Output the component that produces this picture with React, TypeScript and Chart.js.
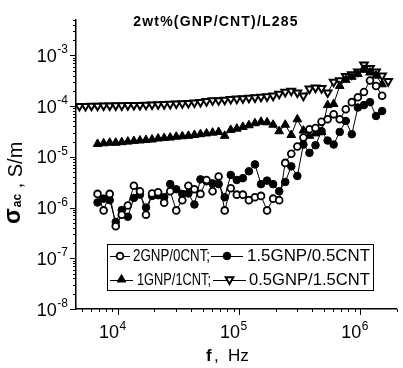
import { useEffect, useRef } from "react";
import { Chart, registerables } from "chart.js";

Chart.register(...registerables);

// ---------------- data ----------------
const FREQ_HZ = [
  4800, 5390, 6040, 6780, 7610, 8540, 9580, 10750, 12060, 13530,
  15180, 17030, 19110, 21440, 24060, 26990, 30290, 33980, 38130, 42780,
  48000, 53860, 60430, 67800, 76080, 85360, 95780, 107500, 120600, 135300,
  151800, 170300, 191100, 214400, 240600, 269900, 302900, 339800, 381300, 427800,
  480000, 538600, 604300, 678100, 760800, 853600, 957800, 1075000, 1206000, 1353000,
  1518000, 1703000,
];

const N = null;

const SIGMA_2GNP_0CNT = [
  N, N, N, 1.86e-6, 8.8e-7, 1.86e-6, 4.3e-7, 7.2e-7, 1.1e-6, 2.7e-6,
  2.1e-6, 7.2e-7, 1.9e-6, 2.0e-6, 1.25e-6, 2.1e-6, 8.8e-7, 1.4e-6, 2.7e-6, 2.3e-6,
  1.86e-6, 3.5e-6, 2.1e-6, 4.1e-6, 8.8e-7, 2.4e-6, 1.8e-6, 1.8e-6, 1.4e-6, 1.6e-6,
  1.7e-6, 8.8e-7, 1.5e-6, 1.4e-6, 7.6e-6, 1.15e-5, 1.6e-5, 2.4e-5, 3.5e-5, 3.7e-5,
  4.9e-5, 5.5e-5, 6.9e-5, 5.5e-5, 8.7e-5, 1.2e-4, 1.5e-4, 1.9e-4, 3.2e-4, 2.5e-4,
  1.6e-4, N,
];

const SIGMA_15GNP_05CNT = [
  N, N, N, 1.26e-6, 1.5e-6, 1.4e-6, 5.2e-7, 8.9e-7, 6.6e-7, 1.55e-6,
  1.8e-6, 1.0e-6, 1.7e-6, 1.75e-6, 1.6e-6, 2.9e-6, 2.3e-6, 1.86e-6, 1.9e-6, 1.15e-6,
  3.6e-6, 3.3e-6, 3.0e-6, 2.9e-6, 1.6e-6, 4.4e-6, 3.5e-6, 3.8e-6, 5.2e-6, 7.1e-6,
  2.9e-6, 3.4e-6, 2.9e-6, 2.1e-6, 3.2e-6, 6.5e-6, 4.2e-6, 1.75e-5, 1.2e-5, 1.7e-5,
  3.2e-5, 2.1e-5, 1.75e-5, 3.1e-5, 5.1e-5, 2.8e-5, 9.4e-5, 1.05e-4, 1.2e-4, 6.4e-5,
  8.0e-5, N,
];

const SIGMA_1GNP_1CNT = [
  N, N, N, 1.8e-5, 1.85e-5, 1.9e-5, 1.9e-5, 1.95e-5, 2.0e-5, 2.05e-5,
  2.1e-5, 2.15e-5, 2.2e-5, 2.3e-5, 2.35e-5, 2.4e-5, 2.5e-5, 2.55e-5, 2.6e-5, 2.7e-5,
  2.8e-5, 2.9e-5, 3.0e-5, 3.1e-5, 2.6e-5, 3.4e-5, 3.6e-5, 3.9e-5, 4.2e-5, 4.6e-5,
  4.9e-5, 4.8e-5, 4.3e-5, 3.2e-5, 4.3e-5, 2.7e-5, 5.5e-5, 3.3e-5, 2.6e-5, 2.9e-5,
  3.1e-5, 1.05e-4, 1.1e-4, 2.5e-4, 3.3e-4, 3.8e-4, 4.3e-4, 5.2e-4, 4.6e-4, 4.0e-4,
  2.7e-4, N,
];

const SIGMA_05GNP_15CNT = [
  1.0e-4, 1.0e-4, 1.01e-4, 1.01e-4, 1.02e-4, 1.02e-4, 1.03e-4, 1.03e-4, 1.04e-4, 1.05e-4,
  1.05e-4, 1.06e-4, 1.07e-4, 1.08e-4, 1.09e-4, 1.1e-4, 1.12e-4, 1.13e-4, 1.15e-4, 1.17e-4,
  1.2e-4, 1.25e-4, 1.3e-4, 1.3e-4, 1.33e-4, 1.37e-4, 1.4e-4, 1.42e-4, 1.45e-4, 1.48e-4,
  1.52e-4, 1.55e-4, 1.6e-4, 1.75e-4, 1.9e-4, 2.0e-4, 1.85e-4, 1.6e-4, 2.2e-4, 2.3e-4,
  2.25e-4, 1.85e-4, 3.0e-4, 3.2e-4, 3.9e-4, 4.2e-4, 4.8e-4, 6.6e-4, 5.6e-4, 4.8e-4,
  4.0e-4, 3.1e-4,
];

const SERIES_LABELS = ["2GNP/0CNT;", "1.5GNP/0.5CNT", "1GNP/1CNT;", "0.5GNP/1.5CNT"];
const X_TICK_EXPONENTS = [4, 5, 6];
const Y_TICK_EXPONENTS = [-8, -7, -6, -5, -4, -3];
const TITLE = "2wt%(GNP/CNT)/L285";
const X_MIN = 4500;
const X_MAX = 2e6;
const Y_MIN = 1e-8;
const Y_MAX = 5e-3;

const FONT = '"Liberation Sans", Arial, sans-serif';

function toPoints(ys: (number | null)[]) {
  return FREQ_HZ.map((f, i) => ({ x: f, y: ys[i] })).filter((p) => p.y != null);
}

type Kind = "circleOpen" | "circleFilled" | "triUp" | "triDown";

const MARK = {
  circleOpen: { r: 3.4, bw: 1.8, fill: "#fff" },
  circleFilled: { r: 3.8, bw: 1, fill: "#000" },
  triUp: { r: 5, bw: 1, fill: "#000" },
  triDown: { r: 4.4, bw: 2, fill: "#fff" },
};

function drawMarker(ctx: CanvasRenderingContext2D, kind: Kind, x: number, y: number) {
  const m = MARK[kind];
  ctx.save();
  ctx.strokeStyle = "#000";
  ctx.beginPath();
  if (kind === "circleOpen" || kind === "circleFilled") {
    ctx.arc(x, y, m.r, 0, Math.PI * 2);
  } else {
    const rot = kind === "triUp" ? 0 : Math.PI;
    for (let k = 0; k < 3; k++) {
      const a = rot + (k * 2 * Math.PI) / 3;
      const px = x + Math.sin(a) * m.r;
      const py = y - Math.cos(a) * m.r;
      if (k === 0) ctx.moveTo(px, py);
      else ctx.lineTo(px, py);
    }
    ctx.closePath();
  }
  ctx.fillStyle = m.fill;
  ctx.lineWidth = m.bw;
  ctx.fill();
  ctx.stroke();
  ctx.restore();
}

const decorPlugin = {
  id: "decor",
  afterDraw(chart: any) {
    const { ctx, chartArea } = chart;
    const xs = chart.scales.x;
    const ys = chart.scales.y;
    ctx.save();
    ctx.strokeStyle = "#000";
    ctx.fillStyle = "#000";
    ctx.lineWidth = 1;

    // x ticks (major + minor)
    for (let d = 3; d <= 6; d++) {
      for (let m = 1; m <= 9; m++) {
        const v = m * Math.pow(10, d);
        if (v < X_MIN || v > X_MAX) continue;
        const px = Math.round(xs.getPixelForValue(v)) + 0.5;
        const len = m === 1 ? 6 : 3;
        ctx.beginPath();
        ctx.moveTo(px, chartArea.bottom);
        ctx.lineTo(px, chartArea.bottom + len);
        ctx.stroke();
      }
    }
    // y ticks
    for (let d = -8; d <= -3; d++) {
      for (let m = 1; m <= 9; m++) {
        const v = m * Math.pow(10, d);
        if (v < Y_MIN * 0.999 || v > Y_MAX * 1.001) continue;
        const py = Math.round(ys.getPixelForValue(v)) + 0.5;
        const len = m === 1 ? 6 : 3;
        ctx.beginPath();
        ctx.moveTo(chartArea.left - len, py);
        ctx.lineTo(chartArea.left, py);
        ctx.stroke();
      }
    }

    // x tick labels
    ctx.textBaseline = "alphabetic";
    for (const e of X_TICK_EXPONENTS) {
      const px = xs.getPixelForValue(Math.pow(10, e));
      ctx.font = `18px ${FONT}`;
      ctx.textAlign = "right";
      ctx.fillText("10", px + 1, 338);
      ctx.font = `12px ${FONT}`;
      ctx.textAlign = "left";
      ctx.fillText(String(e), px + 1.5, 330);
    }
    // y tick labels
    for (const e of Y_TICK_EXPONENTS) {
      const py = ys.getPixelForValue(Math.pow(10, e));
      ctx.font = `12px ${FONT}`;
      const sup = String(e);
      const sw = ctx.measureText(sup).width;
      ctx.textAlign = "left";
      ctx.fillText(sup, 68 - sw, py - 2);
      ctx.font = `18px ${FONT}`;
      ctx.textAlign = "right";
      ctx.fillText("10", 68 - sw - 0.5, py + 6.5);
    }

    // title
    ctx.font = `bold 14px ${FONT}`;
    ctx.textAlign = "center";
    (ctx as any).letterSpacing = "1.2px";
    ctx.fillText(TITLE, 216, 26);
    (ctx as any).letterSpacing = "0px";

    // x axis title
    ctx.textAlign = "left";
    ctx.font = `bold 17px ${FONT}`;
    ctx.fillText("f", 206, 361);
    ctx.font = `17px ${FONT}`;
    ctx.fillText(",", 214, 361);
    ctx.fillText("Hz", 228, 361);

    // y axis title (rotated)
    ctx.save();
    ctx.translate(22, 224);
    ctx.rotate(-Math.PI / 2);
    ctx.textAlign = "left";
    ctx.font = `bold 23px ${FONT}`;
    ctx.fillText("\u03c3", 0, -2);
    const w1 = ctx.measureText("\u03c3").width;
    ctx.font = `bold 12px ${FONT}`;
    ctx.fillText("ac", w1 + 1, -1);
    const w2 = ctx.measureText("ac").width;
    ctx.font = `20px ${FONT}`;
    ctx.fillText(" , S/m", w1 + 1 + w2, 0);
    ctx.restore();

    // legend
    const bx = 107.5, by = 244.5, bw = 266, bh = 46;
    ctx.fillStyle = "#fff";
    ctx.fillRect(bx, by, bw, bh);
    ctx.strokeStyle = "#000";
    ctx.lineWidth = 1;
    ctx.strokeRect(bx, by, bw, bh);
    const entries: { kind: Kind; l0: number; l1: number; mx: number; tx: number; tw: number; y: number; label: string }[] = [
      { kind: "circleOpen", l0: 110, l1: 130, mx: 120, tx: 133, tw: 77, y: 256, label: SERIES_LABELS[0] },
      { kind: "circleFilled", l0: 211, l1: 243, mx: 227, tx: 247, tw: 123, y: 256, label: SERIES_LABELS[1] },
      { kind: "triUp", l0: 110, l1: 133, mx: 121.5, tx: 137, tw: 74, y: 279.5, label: SERIES_LABELS[2] },
      { kind: "triDown", l0: 213, l1: 246, mx: 229.5, tx: 249, tw: 121, y: 279.5, label: SERIES_LABELS[3] },
    ];
    for (const en of entries) {
      ctx.strokeStyle = "#000";
      ctx.lineWidth = 1;
      ctx.beginPath();
      ctx.moveTo(en.l0, Math.round(en.y) + 0.5);
      ctx.lineTo(en.l1, Math.round(en.y) + 0.5);
      ctx.stroke();
      drawMarker(ctx, en.kind, en.mx, en.y);
      ctx.fillStyle = "#000";
      ctx.font = `17px ${FONT}`;
      ctx.textAlign = "left";
      ctx.textBaseline = "middle";
      ctx.fillText(en.label, en.tx, en.y + 0.5, en.tw);
    }
    ctx.restore();
  },
};

export default function App() {
  const ref = useRef<HTMLCanvasElement | null>(null);
  useEffect(() => {
    if (!ref.current) return;
    const common = { borderColor: "#000", borderWidth: 1, pointBorderColor: "#000", showLine: true };
    const chart = new Chart(ref.current, {
      type: "scatter",
      data: {
        datasets: [
          {
            ...common,
            label: SERIES_LABELS[0],
            data: toPoints(SIGMA_2GNP_0CNT),
            pointStyle: "circle",
            pointRadius: MARK.circleOpen.r,
            pointBackgroundColor: MARK.circleOpen.fill,
            pointBorderWidth: MARK.circleOpen.bw,
          },
          {
            ...common,
            label: SERIES_LABELS[1],
            data: toPoints(SIGMA_15GNP_05CNT),
            pointStyle: "circle",
            pointRadius: MARK.circleFilled.r,
            pointBackgroundColor: MARK.circleFilled.fill,
            pointBorderWidth: MARK.circleFilled.bw,
          },
          {
            ...common,
            label: SERIES_LABELS[2],
            data: toPoints(SIGMA_1GNP_1CNT),
            pointStyle: "triangle",
            pointRadius: MARK.triUp.r,
            pointBackgroundColor: MARK.triUp.fill,
            pointBorderWidth: MARK.triUp.bw,
          },
          {
            ...common,
            label: SERIES_LABELS[3],
            data: toPoints(SIGMA_05GNP_15CNT),
            pointStyle: "triangle",
            rotation: 180,
            pointRadius: MARK.triDown.r,
            pointBackgroundColor: MARK.triDown.fill,
            pointBorderWidth: MARK.triDown.bw,
          },
        ] as any,
      },
      options: {
        responsive: false,
        animation: false,
        events: [],
        layout: { padding: { top: 20, right: 0, left: 0, bottom: 0 } },
        plugins: {
          legend: { display: false },
          title: { display: false },
          tooltip: { enabled: false },
        },
        scales: {
          x: {
            type: "logarithmic",
            min: X_MIN,
            max: X_MAX,
            grid: { display: false },
            ticks: { display: false },
            border: { display: true, color: "#000", width: 1.5 },
            afterFit: (s: any) => {
              s.height = 59;
            },
          },
          y: {
            type: "logarithmic",
            min: Y_MIN,
            max: Y_MAX,
            grid: { display: false },
            ticks: { display: false },
            border: { display: true, color: "#000", width: 1.5 },
            afterFit: (s: any) => {
              s.width = 76;
            },
          },
        },
      } as any,
      plugins: [decorPlugin],
    });
    return () => chart.destroy();
  }, []);
  return (
    <div style={{ position: "fixed", left: 0, top: 0, width: 403, height: 368, background: "#fff" }}>
      <canvas ref={ref} width={403} height={368} style={{ display: "block", width: 403, height: 368 }} />
    </div>
  );
}
